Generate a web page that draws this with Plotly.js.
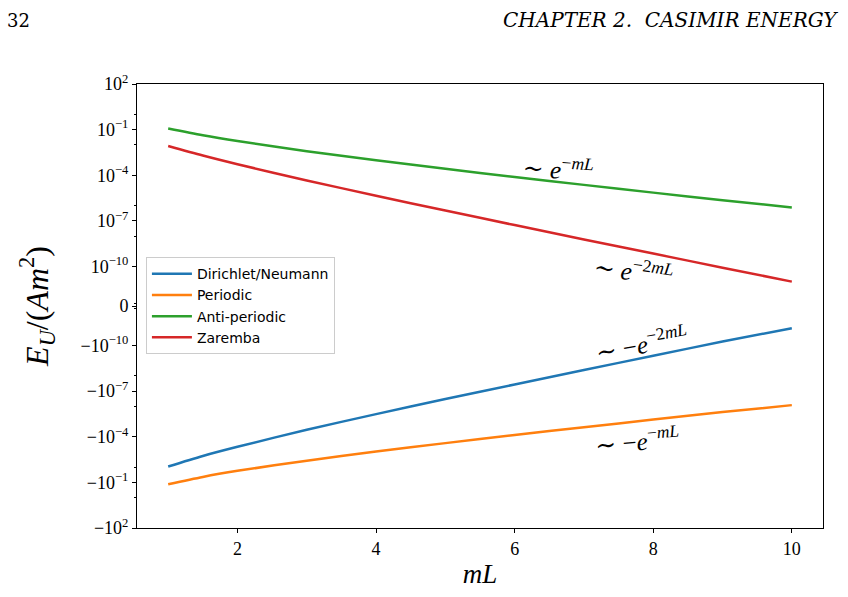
<!DOCTYPE html>
<html>
<head>
<meta charset="utf-8">
<script src="https://cdn.plot.ly/plotly-3.0.1.min.js"></script>
<style>
  html, body { margin: 0; padding: 0; background: #fff; }
  #plot { width: 848px; height: 597px; }
</style>
</head>
<body>
<div id="plot"></div>
<script>
// mL sample points
const mL = [1, 1.5, 2, 3, 4, 5, 6, 7, 8, 9, 10];

// E_U / (A m^2) for each boundary condition
const dirichletNeumann = [-9.04e-3, -1.82e-3, -4.57e-4, -3.47e-5, -3.24e-6, -3.31e-7, -3.63e-8, -4.07e-9, -4.68e-10, -5.5e-11, -7.2e-12];
const periodic         = [-1.32e-1, -4.36e-2, -1.74e-2, -3.76e-3, -9.44e-4, -2.62e-4, -7.64e-5, -2.37e-5, -7.43e-6, -2.39e-6, -8.3e-7];
const antiPeriodic     = [1.17e-1, 4.21e-2, 1.76e-2, 3.82e-3, 9.66e-4, 2.66e-4, 7.71e-5, 2.32e-5, 7.19e-6, 2.27e-6, 7.6e-7];
const zaremba          = [8.3e-3, 1.96e-3, 5.25e-4, 4.55e-5, 4.49e-6, 4.75e-7, 5.26e-8, 6.0e-9, 7.03e-10, 8.34e-11, 1.01e-11];

const seriesNames = ["Dirichlet/Neumann", "Periodic", "Anti-periodic", "Zaremba"];
const seriesColors = ["#1f77b4", "#ff7f0e", "#2ca02c", "#d62728"];

// y tick values and their labels
const yMajorVals = [1e2, 1e-1, 1e-4, 1e-7, 1e-10, 0, -1e-10, -1e-7, -1e-4, -1e-1, -1e2];
const yMajorText = ["10<sup>2</sup>", "10<sup>\u22121</sup>", "10<sup>\u22124</sup>", "10<sup>\u22127</sup>", "10<sup>\u221210</sup>", "0",
                    "\u221210<sup>\u221210</sup>", "\u221210<sup>\u22127</sup>", "\u221210<sup>\u22124</sup>", "\u221210<sup>\u22121</sup>", "\u221210<sup>2</sup>"];
const yMinorVals = [1e0, 1e-2, 1e-6, 1e-8, 3e-13, -3e-13, -1e-8, -1e-6, -1e-2, -1e0];
const xTickVals = [2, 4, 6, 8, 10];

// symmetric log scale: logarithmic above LIN_THRESH, linear inside it
const LIN_THRESH = 1e-12;
const LIN_WIDTH = 0.6; // decades taken by the linear band on each side
function symlog(v) {
  const a = Math.abs(v);
  if (a === 0) return 0;
  const s = Math.sign(v);
  if (a < LIN_THRESH) return s * (a / LIN_THRESH) * LIN_WIDTH;
  return s * (Math.log10(a / LIN_THRESH) + LIN_WIDTH);
}
const yTop = symlog(1e2);

const allSeries = [dirichletNeumann, periodic, antiPeriodic, zaremba];
const traces = allSeries.map((vals, i) => ({
  x: mL,
  y: vals.map(symlog),
  customdata: vals,
  type: "scatter",
  mode: "lines",
  name: seriesNames[i],
  line: { color: seriesColors[i], width: 2.5, shape: "spline", smoothing: 0.8 },
  hovertemplate: "mL=%{x}<br>%{customdata:.3e}<extra></extra>"
}));

const serif = "Liberation Serif, DejaVu Serif, serif";
const mathFont = { family: serif, size: 25, color: "#000" };

function label(text, x, yVal, angle) {
  return { text: text, x: x, y: symlog(yVal), xref: "x", yref: "y",
           showarrow: false, textangle: angle, font: mathFont };
}

const layout = {
  width: 848, height: 597,
  margin: { l: 137, r: 25, t: 84, b: 69 },
  paper_bgcolor: "#fff", plot_bgcolor: "#fff",
  showlegend: true,
  legend: {
    x: 0.013, y: 0.61, xanchor: "left", yanchor: "top",
    bgcolor: "rgba(255,255,255,0.8)", bordercolor: "#cccccc", borderwidth: 1,
    font: { family: "DejaVu Sans, sans-serif", size: 14, color: "#000" },
    itemwidth: 40
  },
  xaxis: {
    range: [0.55, 10.45],
    tickmode: "array", tickvals: xTickVals, ticktext: xTickVals.map(String),
    ticks: "outside", ticklen: 4, tickwidth: 1, tickcolor: "#000",
    showline: true, linecolor: "#000", linewidth: 1, mirror: true,
    showgrid: false, zeroline: false,
    tickfont: { family: serif, size: 18, color: "#000" },
    title: { text: "<i>mL</i>", font: { family: serif, size: 27, color: "#000" }, standoff: 6 }
  },
  yaxis: {
    range: [-yTop, yTop],
    tickmode: "array", tickvals: yMajorVals.map(symlog), ticktext: yMajorText,
    ticks: "outside", ticklen: 4, tickwidth: 1, tickcolor: "#000",
    minor: { tickmode: "array", tickvals: yMinorVals.map(symlog), ticks: "outside", ticklen: 2, tickwidth: 1, tickcolor: "#000", showgrid: false },
    showline: true, linecolor: "#000", linewidth: 1, mirror: true,
    showgrid: false, zeroline: false,
    tickfont: { family: serif, size: 18, color: "#000" },
    title: { text: "<i>E<sub>U</sub></i>/(<i>Am</i><sup>2</sup>)", font: { family: serif, size: 32, color: "#000" }, standoff: 22 }
  },
  annotations: [
    label("\u223C <i>e</i><sup>\u2212<i>mL</i></sup>", 6.63, 3.0e-4, 4),
    label("\u223C <i>e</i><sup>\u22122<i>mL</i></sup>", 7.71, 5.9e-11, 8),
    label("\u223C \u2212<i>e</i><sup>\u22122<i>mL</i></sup>", 7.83, -6.8e-11, -10),
    label("\u223C \u2212<i>e</i><sup>\u2212<i>mL</i></sup>", 7.77, -1.6e-4, -5),
    { text: "32", xref: "paper", yref: "paper", x: -0.192, y: 1.144, xanchor: "left", yanchor: "middle",
      showarrow: false, font: { family: "DejaVu Serif, serif", size: 18, color: "#000" } },
    { text: "<i>CHAPTER 2.  CASIMIR ENERGY</i>", xref: "paper", yref: "paper", x: 1.0248, y: 1.144, xanchor: "right", yanchor: "middle",
      showarrow: false, font: { family: "DejaVu Serif, serif", size: 20, color: "#000" } }
  ]
};

Plotly.newPlot("plot", traces, layout, { displayModeBar: false, staticPlot: true });
</script>
</body>
</html>
